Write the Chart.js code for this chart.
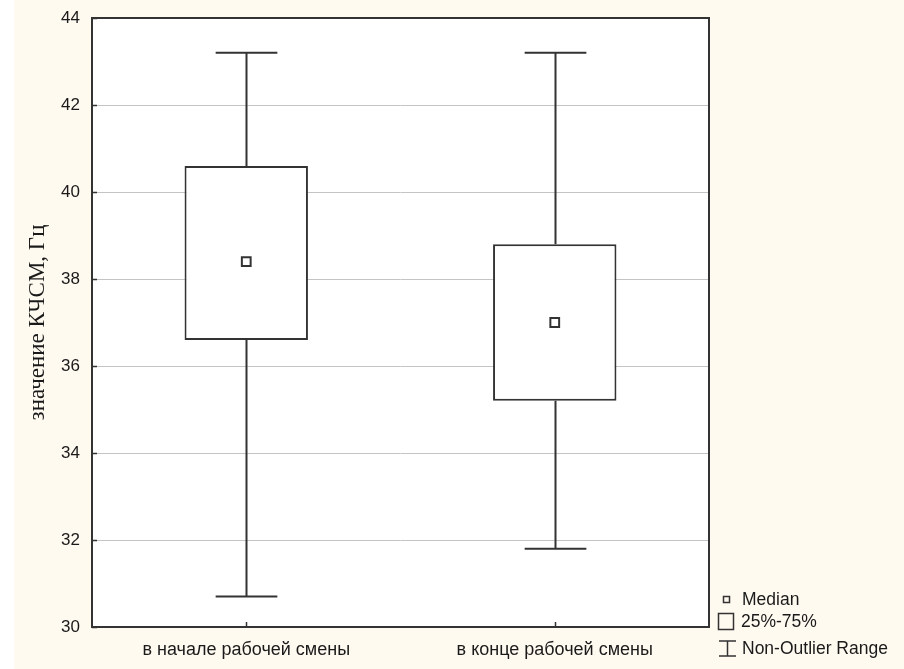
<!DOCTYPE html>
<html>
<head>
<meta charset="utf-8">
<script src="https://cdn.jsdelivr.net/npm/chart.js@4.4.1/dist/chart.umd.min.js"></script>
<style>
  html, body { margin: 0; padding: 0; background: #FFFAF0; }
  canvas { display: block; }
</style>
</head>
<body>
<canvas id="c" width="904" height="669"></canvas>
<script>
// ---- data ----
const categories = ['в начале рабочей смены', 'в конце рабочей смены'];
const q1 = [36.6, 35.2];
const q3 = [40.6, 38.8];
const medians = [38.4, 37.0];
const whiskerLow = [30.7, 31.8];
const whiskerHigh = [43.2, 43.2];
const yMin = 30, yMax = 44, yStep = 2;
const yTitle = 'значение КЧСМ, Гц';
const legendLabels = ['Median', '25%-75%', 'Non-Outlier Range'];

const LINE = '#333333';
const TEXT = '#1a1a1a';

const framePlugin = {
  id: 'frame',
  beforeDraw(chart) {
    const ctx = chart.ctx, a = chart.chartArea;
    ctx.save();
    ctx.fillStyle = '#FFFAF0';
    ctx.fillRect(0, 0, chart.width, chart.height);
    ctx.fillStyle = '#FFFFFF';
    ctx.fillRect(0, 0, 14, chart.height);
    ctx.fillRect(a.left, a.top, a.right - a.left, a.bottom - a.top);
    ctx.restore();
  },
  beforeDatasetsDraw(chart) {
    // whiskers
    const ctx = chart.ctx, x = chart.scales.x, y = chart.scales.y;
    const catW = (x.getPixelForValue(1) - x.getPixelForValue(0));
    const capHalf = catW * 0.1;
    ctx.save();
    ctx.strokeStyle = LINE;
    ctx.lineWidth = 2;
    categories.forEach((c, i) => {
      const cx = Math.round(x.getPixelForValue(i)) + 0.5;
      const yHi = y.getPixelForValue(whiskerHigh[i]);
      const yLo = y.getPixelForValue(whiskerLow[i]);
      const yQ3 = y.getPixelForValue(q3[i]);
      const yQ1 = y.getPixelForValue(q1[i]);
      ctx.beginPath();
      ctx.moveTo(cx, yHi); ctx.lineTo(cx, yQ3);
      ctx.moveTo(cx, yQ1); ctx.lineTo(cx, yLo);
      ctx.moveTo(cx - capHalf, yHi); ctx.lineTo(cx + capHalf, yHi);
      ctx.moveTo(cx - capHalf, yLo); ctx.lineTo(cx + capHalf, yLo);
      ctx.stroke();
    });
    ctx.restore();
  },
  afterDraw(chart) {
    const ctx = chart.ctx, a = chart.chartArea, x = chart.scales.x, y = chart.scales.y;
    ctx.save();
    // frame
    ctx.strokeStyle = LINE;
    ctx.lineWidth = 2;
    ctx.strokeRect(a.left, a.top, a.right - a.left, a.bottom - a.top);
    // inward ticks
    ctx.lineWidth = 1.5;
    ctx.beginPath();
    for (let v = yMin; v <= yMax; v += yStep) {
      const py = Math.round(y.getPixelForValue(v)) + 0.5;
      ctx.moveTo(a.left, py); ctx.lineTo(a.left + 5, py);
    }
    categories.forEach((c, i) => {
      const px = Math.round(x.getPixelForValue(i)) + 0.5;
      ctx.moveTo(px, a.bottom); ctx.lineTo(px, a.bottom - 5);
    });
    ctx.stroke();

    // y title
    ctx.save();
    ctx.translate(44, (a.top + a.bottom) / 2);
    ctx.rotate(-Math.PI / 2);
    ctx.font = '23px "Liberation Serif"';
    ctx.fillStyle = TEXT;
    ctx.textAlign = 'center';
    ctx.textBaseline = 'alphabetic';
    ctx.fillText(yTitle, 0, 0);
    ctx.restore();

    // legend
    const lx = a.right + 9;
    const ly = a.bottom;
    ctx.strokeStyle = LINE;
    ctx.lineWidth = 1.5;
    ctx.strokeRect(lx + 5.5, ly - 30.5, 6, 6);
    ctx.strokeRect(lx + 0.5, ly - 13.5, 15, 16);
    ctx.beginPath();
    ctx.moveTo(lx + 1, ly + 14); ctx.lineTo(lx + 18, ly + 14);
    ctx.moveTo(lx + 1, ly + 29); ctx.lineTo(lx + 18, ly + 29);
    ctx.moveTo(lx + 9.5, ly + 14); ctx.lineTo(lx + 9.5, ly + 29);
    ctx.stroke();
    ctx.font = '17.5px "Liberation Sans"';
    ctx.fillStyle = TEXT;
    ctx.textAlign = 'left';
    ctx.textBaseline = 'middle';
    ctx.fillText(legendLabels[0], lx + 24, ly - 27);
    ctx.fillText(legendLabels[1], lx + 23, ly - 5);
    ctx.fillText(legendLabels[2], lx + 24, ly + 22);
    ctx.restore();
  }
};

new Chart(document.getElementById('c'), {
  type: 'bar',
  data: {
    labels: categories,
    datasets: [
      {
        type: 'line',
        label: legendLabels[0],
        data: medians,
        showLine: false,
        pointStyle: 'rect',
        pointRadius: 6.2,
        pointHoverRadius: 6.2,
        pointBorderWidth: 2,
        pointBorderColor: LINE,
        pointBackgroundColor: '#ffffff',
        order: 0
      },
      {
        type: 'bar',
        label: legendLabels[1],
        data: categories.map((c, i) => [q1[i], q3[i]]),
        backgroundColor: '#ffffff',
        borderColor: LINE,
        borderWidth: 2,
        borderSkipped: false,
        barPercentage: 0.4,
        categoryPercentage: 1.0,
        order: 1
      }
    ]
  },
  options: {
    responsive: false,
    animation: false,
    events: [],
    layout: { padding: { left: 0, top: 18, right: 195, bottom: 0 } },
    plugins: { legend: { display: false }, tooltip: { enabled: false } },
    scales: {
      x: {
        type: 'category',
        offset: true,
        grid: { display: false, drawTicks: false },
        border: { display: false },
        ticks: {
          color: TEXT,
          font: { family: '"Liberation Sans"', size: 18 },
          padding: 12,
          maxRotation: 0
        },
        afterFit(scale) {
          scale.height = 42;
          scale.paddingLeft = 0; scale.paddingRight = 0;
        }
      },
      y: {
        min: yMin,
        max: yMax,
        grid: { color: '#c4c4c4', lineWidth: 1, drawTicks: false },
        border: { display: false },
        ticks: {
          stepSize: yStep,
          color: TEXT,
          font: { family: '"Liberation Sans"', size: 17 },
          padding: 12
        },
        afterFit(scale) {
          scale.width = 92;
          scale.paddingTop = 0; scale.paddingBottom = 0;
        }
      }
    }
  },
  plugins: [framePlugin]
});
</script>
</body>
</html>
